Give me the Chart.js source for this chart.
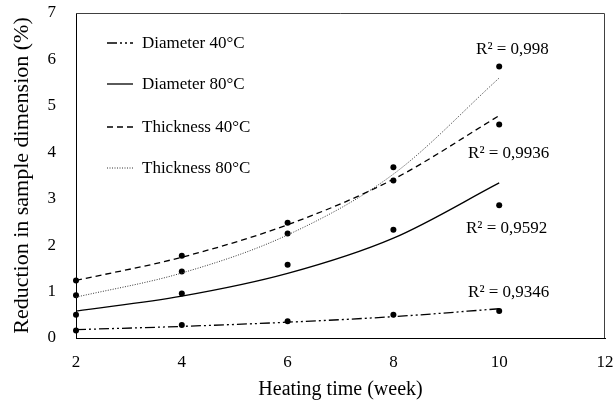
<!DOCTYPE html>
<html>
<head>
<meta charset="utf-8">
<script src="https://cdn.jsdelivr.net/npm/chart.js@4/dist/chart.umd.min.js"></script>
<style>
html, body { margin: 0; padding: 0; background: #fff; }
#wrap { width: 614px; height: 402px; }
</style>
</head>
<body>
<div id="wrap"><canvas id="chart" width="614" height="402"></canvas></div>
<script>
// Heating weeks
const weeks = [2, 4, 6, 8, 10];

// Measured reduction (%)
const diam40 = [0.16, 0.28, 0.36, 0.50, 0.58];
const diam80 = [0.50, 0.96, 1.58, 2.33, 2.86];
const thick40 = [1.24, 1.77, 2.48, 3.39, 4.60];
const thick80 = [0.92, 1.43, 2.25, 3.68, 5.85];

const diam40Fit = [0.18, 0.25, 0.34, 0.46, 0.63];
const diam80Fit = [0.58, 0.90, 1.39, 2.15, 3.34];
const thick40Fit = [1.24, 1.74, 2.44, 3.42, 4.79];
const thick80Fit = [0.88, 1.40, 2.22, 3.53, 5.60];

const seriesNames = ['Diameter 40°C', 'Diameter 80°C', 'Thickness 40°C', 'Thickness 80°C'];
const r2Labels = ['R² = 0,9346', 'R² = 0,9592', 'R² = 0,9936', 'R² = 0,998'];

const FONT = "'Liberation Serif', 'Times New Roman', serif";

// line looks per series
const styles = [
    { dash: [10, 3, 2, 3, 2, 3], width: 1.3, color: '#000' },
    { dash: [], width: 1.3, color: '#000' },
    { dash: [6, 4], width: 1.3, color: '#000' },
    { dash: [1, 1.5], width: 1, color: '#333' }
];

// where the R² labels sit (data coords, centre of text)
const r2Pos = [
    { x: 10.18, y: 0.97 },
    { x: 10.14, y: 2.35 },
    { x: 10.18, y: 3.97 },
    { x: 10.25, y: 6.22 }
];

function pts(ys) {
    return weeks.map((w, i) => ({ x: w, y: ys[i] }));
}

const measured = [diam40, diam80, thick40, thick80];
const fits = [diam40Fit, diam80Fit, thick40Fit, thick80Fit];

const datasets = [];
fits.forEach((f, i) => {
    datasets.push({
        label: seriesNames[i],
        data: pts(f),
        showLine: true,
        pointRadius: 0,
        borderColor: styles[i].color,
        borderWidth: styles[i].width,
        borderDash: styles[i].dash,
        cubicInterpolationMode: 'monotone',
        fill: false
    });
});
measured.forEach((m, i) => {
    datasets.push({
        label: seriesNames[i] + ' data',
        data: pts(m),
        showLine: false,
        clip: false,
        pointRadius: 3,
        pointBackgroundColor: '#000',
        pointBorderWidth: 0
    });
});

// box round the plot + legend + R² texts
const decorPlugin = {
    id: 'decor',
    afterDraw(chart) {
        const ctx = chart.ctx;
        const a = chart.chartArea;
        const xs = chart.scales.x, ys = chart.scales.y;
        ctx.save();
        ctx.strokeStyle = '#404040';
        ctx.lineWidth = 1;
        ctx.setLineDash([]);
        ctx.beginPath();
        ctx.moveTo(a.left, a.top + 0.5);
        ctx.lineTo(a.right - 0.5, a.top + 0.5);
        ctx.lineTo(a.right - 0.5, a.bottom);
        ctx.stroke();

        // legend
        const rowY = [43, 84, 127, 168];
        ctx.font = '17px ' + FONT;
        ctx.fillStyle = '#000';
        ctx.textBaseline = 'middle';
        ctx.textAlign = 'left';
        seriesNames.forEach((name, i) => {
            const y = a.top + rowY[i] - 13;
            ctx.strokeStyle = styles[i].color;
            ctx.lineWidth = styles[i].width;
            ctx.setLineDash(styles[i].dash);
            ctx.beginPath();
            ctx.moveTo(a.left + 31, y);
            ctx.lineTo(a.left + 57, y);
            ctx.stroke();
            ctx.fillText(name, a.left + 66, y + 1);
        });

        // R² labels
        ctx.textAlign = 'center';
        r2Labels.forEach((t, i) => {
            ctx.fillText(t, xs.getPixelForValue(r2Pos[i].x), ys.getPixelForValue(r2Pos[i].y));
        });
        ctx.restore();
    }
};

new Chart(document.getElementById('chart'), {
    type: 'scatter',
    data: { datasets: datasets },
    options: {
        responsive: false,
        animation: false,
        layout: { padding: 0 },
        plugins: { legend: { display: false }, tooltip: { enabled: false } },
        scales: {
            x: {
                type: 'linear',
                min: 2, max: 12,
                ticks: { stepSize: 2, color: '#000', font: { family: FONT, size: 17 }, padding: 14 },
                grid: { display: false, drawTicks: false },
                border: { display: true, color: '#000', width: 1 },
                title: { display: true, text: 'Heating time (week)', color: '#000', font: { family: FONT, size: 20 }, padding: { top: 0, bottom: 0 } },
                afterFit(s) { s.height = 64; s.paddingLeft = 0; s.paddingRight = 9; }
            },
            y: {
                min: 0, max: 7,
                ticks: { stepSize: 1, color: '#000', font: { family: FONT, size: 17 }, padding: 20 },
                grid: { display: false, drawTicks: false },
                border: { display: true, color: '#000', width: 1 },
                title: { display: true, text: 'Reduction in sample dimension (%)', color: '#000', font: { family: FONT, size: 22 }, padding: { top: 9, bottom: 0 } },
                afterFit(s) { s.width = 76; s.paddingTop = 13; s.paddingBottom = 0; }
            }
        }
    },
    plugins: [decorPlugin]
});
</script>
</body>
</html>
